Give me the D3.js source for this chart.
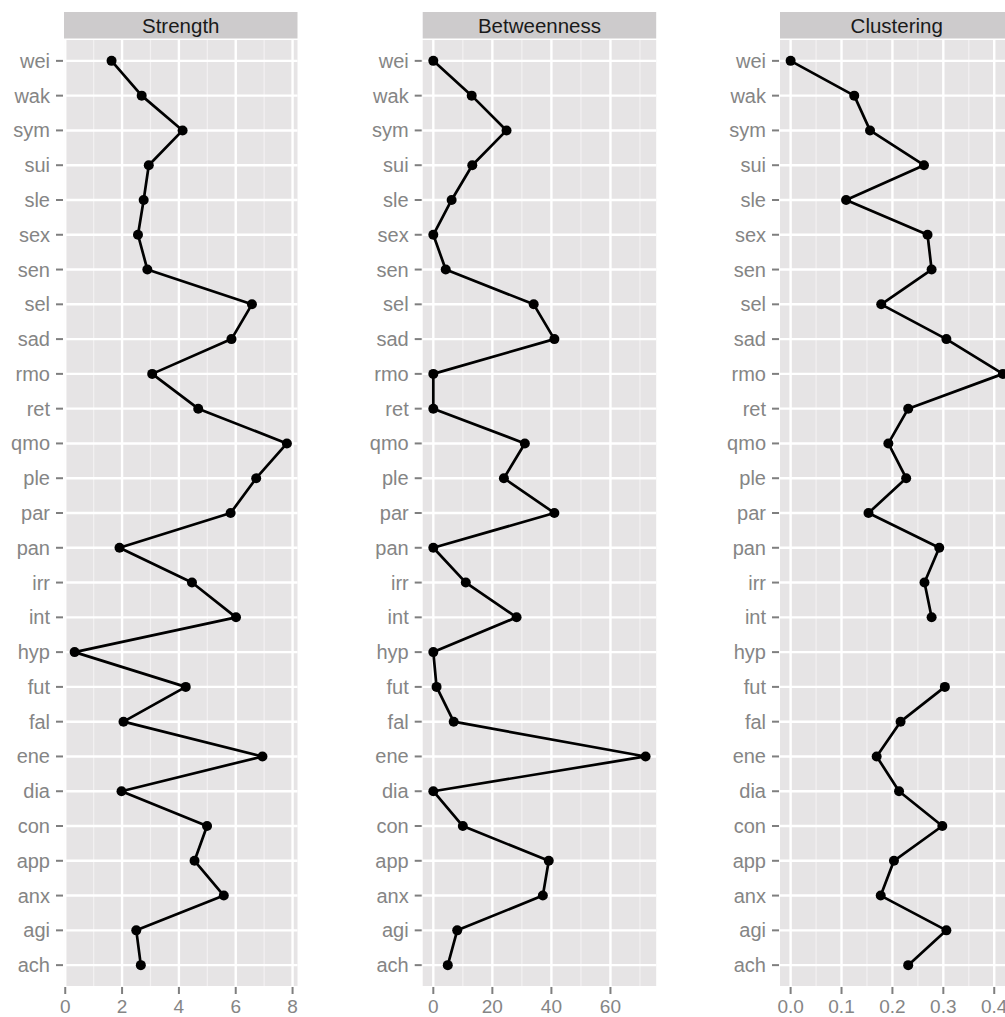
<!DOCTYPE html>
<html>
<head>
<meta charset="utf-8">
<script src="https://cdn.jsdelivr.net/npm/d3@7"></script>
<style>
  html,body{margin:0;padding:0;background:#fff;overflow:hidden;}
  svg{display:block;font-family:"Liberation Sans",Arial,sans-serif;}
</style>
</head>
<body>
<div id="chart"></div>
<script>
// nodes, bottom to top
const nodes = ["ach","agi","anx","app","con","dia","ene","fal","fut","hyp","int","irr","pan",
  "par","ple","qmo","ret","rmo","sad","sel","sen","sex","sle","sui","sym","wak","wei"];

const strength = [2.66,2.50,5.58,4.55,4.99,1.98,6.94,2.05,4.24,0.33,6.01,4.46,1.91,
  5.82,6.72,7.80,4.68,3.06,5.85,6.57,2.89,2.56,2.76,2.94,4.13,2.69,1.63];
const betweenness = [4.9,8.1,37.1,39.1,10,0,71.9,6.9,1.1,0,28.2,11,0,
  41,23.9,31,0,0,41,34,4.2,0,6.2,13.2,24.8,13,0];
const clustering = [0.231,0.306,0.177,0.203,0.298,0.213,0.169,0.216,0.303,null,0.277,0.263,0.292,
  0.153,0.227,0.192,0.231,0.417,0.306,0.178,0.277,0.269,0.109,0.262,0.156,0.125,0.0];

const panels = [
  {title:"Strength", values:strength, ticks:[0,2,4,6,8], minor:[1,3,5,7], fmt:d=>d},
  {title:"Betweenness", values:betweenness, ticks:[0,20,40,60], minor:[10,30,50,70], fmt:d=>d},
  {title:"Clustering", values:clustering, ticks:[0,0.1,0.2,0.3,0.4], minor:[0.05,0.15,0.25,0.35], fmt:d3.format(".1f")}
];

const W=1005, H=1017;
const PL=[64,422.7,780], PW=233.5, PT=40, PB=986, STRIP_TOP=12;

const svg=d3.select("#chart").append("svg").attr("width",W).attr("height",H);

const y=d3.scalePoint().domain(nodes.slice().reverse()).range([PT,PB]).padding(0.6);

panels.forEach((p,i)=>{
  const vals=p.values.filter(v=>v!=null);
  const [lo,hi]=d3.extent(vals), pad=(hi-lo)*0.05;
  const x=d3.scaleLinear().domain([lo-pad,hi+pad]).range([0,PW]);
  const g=svg.append("g").attr("transform",`translate(${PL[i]},0)`);

  // strip
  g.append("rect").attr("x",0).attr("y",STRIP_TOP).attr("width",PW).attr("height",PT-STRIP_TOP-1.5)
    .attr("fill","#cdcbcc");
  g.append("text").attr("x",PW/2).attr("y",STRIP_TOP+20.5).attr("text-anchor","middle")
    .attr("font-size",20.5).attr("fill","#1a1a1a").text(p.title);

  // panel background
  g.append("rect").attr("x",0).attr("y",PT).attr("width",PW).attr("height",PB-PT).attr("fill","#e6e4e5");

  // minor grid
  g.selectAll(".minor").data(p.minor.filter(v=>x(v)>=0&&x(v)<=PW)).join("line")
    .attr("x1",d=>x(d)).attr("x2",d=>x(d)).attr("y1",PT).attr("y2",PB)
    .attr("stroke","#f3f1f2").attr("stroke-width",1.2);
  // major grid
  g.selectAll(".vmaj").data(p.ticks).join("line")
    .attr("x1",d=>x(d)).attr("x2",d=>x(d)).attr("y1",PT).attr("y2",PB)
    .attr("stroke","#fff").attr("stroke-width",2.4);
  g.selectAll(".hmaj").data(nodes).join("line")
    .attr("x1",0).attr("x2",PW).attr("y1",d=>y(d)).attr("y2",d=>y(d))
    .attr("stroke","#fff").attr("stroke-width",2.4);

  // y axis
  g.selectAll(".ytick").data(nodes).join("line")
    .attr("x1",-8).attr("x2",-1).attr("y1",d=>y(d)).attr("y2",d=>y(d))
    .attr("stroke","#7f7f7f").attr("stroke-width",2);
  g.selectAll(".ylab").data(nodes).join("text")
    .attr("x",-14).attr("y",d=>y(d)).attr("dy","0.35em").attr("text-anchor","end")
    .attr("font-size",20).attr("fill","#858585").text(d=>d);

  // x axis
  g.selectAll(".xtick").data(p.ticks).join("line")
    .attr("x1",d=>x(d)).attr("x2",d=>x(d)).attr("y1",PB+1).attr("y2",PB+8)
    .attr("stroke","#7f7f7f").attr("stroke-width",2);
  g.selectAll(".xlab").data(p.ticks).join("text")
    .attr("x",d=>x(d)).attr("y",PB+27).attr("text-anchor","middle")
    .attr("font-size",19).attr("fill","#858585").text(d=>p.fmt(d));

  // line + points
  const pts=nodes.map((n,k)=>({n,v:p.values[k]}));
  const line=d3.line().defined(d=>d.v!=null).x(d=>x(d.v)).y(d=>y(d.n));
  g.append("path").datum(pts).attr("d",line).attr("fill","none")
    .attr("stroke","#000").attr("stroke-width",2.7).attr("stroke-linejoin","round");
  g.selectAll(".pt").data(pts.filter(d=>d.v!=null)).join("circle")
    .attr("cx",d=>x(d.v)).attr("cy",d=>y(d.n)).attr("r",5).attr("fill","#000");
});
</script>
</body>
</html>
